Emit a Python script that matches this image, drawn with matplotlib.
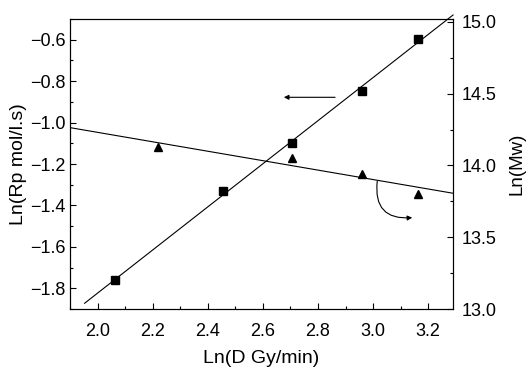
import numpy as np
import matplotlib.pyplot as plt
from matplotlib.ticker import MultipleLocator

plt.rcParams['font.family'] = ['Liberation Sans', 'DejaVu Sans']

# polymerization rate vs dose rate (left axis)
dose_rp = [2.065, 2.455, 2.705, 2.96, 3.164]
ln_rp = [-1.76, -1.33, -1.10, -0.846, -0.595]

# molecular weight vs dose rate (right axis)
dose_mw = [2.218, 2.705, 2.96, 3.164]
ln_mw = [14.127, 14.053, 13.94, 13.80]

fig = plt.figure(figsize=(5.28, 3.69), dpi=100)
ax = fig.add_axes([0.1326, 0.1626, 0.7254, 0.7859])
ax2 = ax.twinx()

fs = 13
lfs = 14
lw = 0.8

# linear fits
k1, b1 = np.polyfit(dose_rp, ln_rp, 1)
xf1 = np.array([1.953, 3.29])
ax.plot(xf1, k1 * xf1 + b1, color='black', lw=lw, clip_on=False)
ax.plot(dose_rp, ln_rp, 's', color='black', ms=6)

k2, b2 = np.polyfit(dose_mw, ln_mw, 1)
xf2 = np.array([1.9, 3.29])
ax2.plot(xf2, k2 * xf2 + b2, color='black', lw=lw)
ax2.plot(dose_mw, ln_mw, '^', color='black', ms=5.5)

ax.set_xlim(1.9, 3.29)
ax.set_ylim(-1.9, -0.5)
ax2.set_ylim(13.0, 15.02)

ax.xaxis.set_major_locator(MultipleLocator(0.2))
ax.xaxis.set_minor_locator(MultipleLocator(0.1))
ax.yaxis.set_major_locator(MultipleLocator(0.2))
ax.yaxis.set_minor_locator(MultipleLocator(0.1))
ax2.yaxis.set_major_locator(MultipleLocator(0.5))
ax2.yaxis.set_minor_locator(MultipleLocator(0.25))

ax.tick_params(axis='x', which='both', direction='in', top=False, labelsize=fs, pad=10)
ax.tick_params(axis='y', which='both', direction='in', right=False, labelsize=fs, pad=3)
ax2.tick_params(axis='y', which='both', direction='in', labelsize=fs, pad=6)
for a in (ax, ax2):
    a.tick_params(which='major', length=4, width=lw)
    a.tick_params(which='minor', length=2, width=lw)
    for s in a.spines.values():
        s.set_linewidth(lw)

ax.set_xlabel('Ln(D Gy/min)', fontsize=lfs, labelpad=7)
ax.set_ylabel('Ln(Rp mol/l.s)', fontsize=lfs, labelpad=2)
ax2.set_ylabel('Ln(Mw)', fontsize=13.5, labelpad=9)

# arrows pointing each series to its axis
ax.annotate('', xy=(2.676, -0.878), xytext=(2.862, -0.878),
            arrowprops=dict(arrowstyle='-|>', color='black', lw=lw,
                            mutation_scale=7, shrinkA=0, shrinkB=0))
ax.annotate('', xy=(3.142, -1.459), xytext=(3.015, -1.283),
            arrowprops=dict(arrowstyle='-|>', color='black', lw=lw,
                            mutation_scale=7, shrinkA=0, shrinkB=0,
                            connectionstyle='arc3,rad=0.6'))

fig.savefig('out.png', dpi=100)
